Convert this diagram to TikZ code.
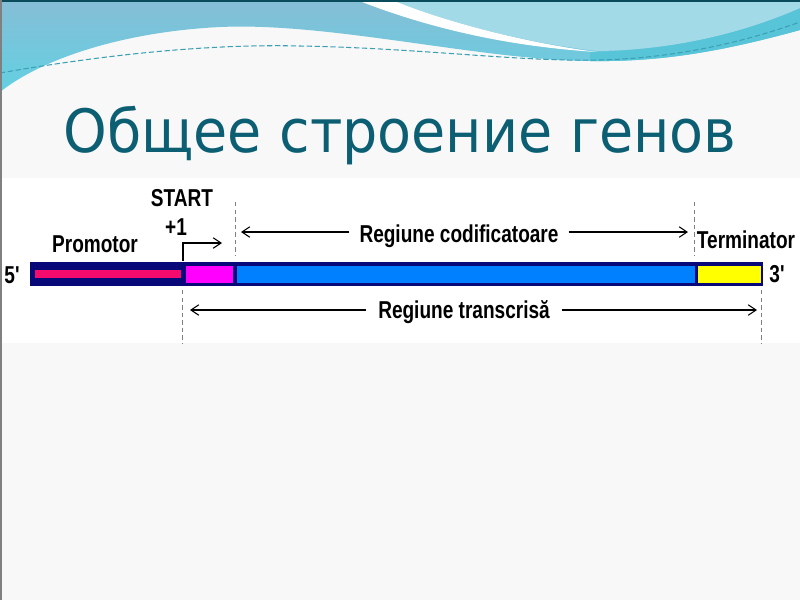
\documentclass[tikz,border=0pt]{standalone}
\usepackage{fontspec}
\usetikzlibrary{arrows.meta}
\newfontfamily\titlefont[FakeStretch=0.93]{DejaVu Sans}
\newfontfamily\labelfont[FakeStretch=0.78,Ligatures=TeXOff]{Liberation Sans}

\definecolor{slide}{RGB}{248,248,248}
\definecolor{titleteal}{RGB}{12,94,115}
\definecolor{wavetop}{RGB}{134,190,214}
\definecolor{wavebot}{RGB}{98,208,226}
\definecolor{wavelight}{RGB}{163,218,232}
\definecolor{waveband}{RGB}{88,196,216}
\definecolor{wavedash}{RGB}{60,160,180}
\definecolor{navy}{RGB}{8,8,120}
\definecolor{promo}{RGB}{245,10,110}
\definecolor{startpink}{RGB}{255,0,255}
\definecolor{codblue}{RGB}{0,128,255}
\definecolor{termyellow}{RGB}{255,255,0}

\tikzset{
	gene/.style={font=\labelfont\bfseries\fontsize{13.9}{16}\selectfont, inner sep=0pt, anchor=base},
	span/.style={-{Straight Barb[length=4.5pt,width=6pt]}, line width=0.6pt},
	guide/.style={gray, line width=0.4pt, dash pattern=on 2.5pt off 1.8pt},
}

\begin{document}
\begin{tikzpicture}[x=0.02cm,y=-0.02cm]
	\useasboundingbox (0,0) rectangle (800,600);
	% slide background and waves
	\fill[slide] (0,0) rectangle (800,600);
	\shade[top color=wavetop,bottom color=wavebot]
		(0,0) -- (800,0) -- (800,30)
		.. controls (720,52) and (660,62) .. (590,61)
		.. controls (480,60) and (330,22) .. (220,27)
		.. controls (120,32) and (40,60) .. (0,92) -- cycle;
	\fill[waveband] (590,52) .. controls (680,50) and (750,30) .. (800,8)
		-- (800,30) .. controls (720,52) and (660,62) .. (590,61) -- cycle;
	\fill[wavelight] (392,0) .. controls (440,20) and (520,42) .. (597,51)
		.. controls (680,50) and (750,30) .. (800,8) -- (800,0) -- cycle;
	\fill[white] (357,0) .. controls (420,25) and (500,46) .. (597,52)
		.. controls (520,42) and (440,20) .. (392,0) -- cycle;
	\draw[wavedash, line width=0.6pt, dash pattern=on 3pt off 1.5pt]
		(0,73) .. controls (120,52) and (220,44) .. (300,46)
		.. controls (420,48) and (520,62) .. (600,60)
		.. controls (680,58) and (750,40) .. (800,22);
	\fill[titleteal!80!black] (0,0) rectangle (800,2);
	\fill[gray] (0,0) rectangle (1.5,600);

	\node[anchor=base, text=titleteal, inner sep=0pt, font=\titlefont\fontsize{34}{40}\selectfont] (title) at (400,152) {Общее строение генов};

	% gene picture
	\fill[white] (1.5,178) rectangle (800,343);
	\fill[navy] (30,262) rectangle (763,286);
	\fill[promo] (35,270) rectangle (181,278);
	\fill[startpink] (186,266) rectangle (233,283);
	\fill[codblue] (237,266) rectangle (695,283);
	\fill[termyellow] (698,266) rectangle (761,283);

	\node[gene] (start) at (182,206) {START};
	\node[gene] (plus) at (176,235) {+1};
	\node[gene] (prom) at (95,252) {Promotor};
	\node[gene, inner xsep=5.5pt] (codreg) at (459,242) {Regiune codificatoare};
	\node[gene] (term) at (746,248) {Terminator};
	\node[gene] (five) at (12,283) {5'};
	\node[gene] (three) at (777,282) {3'};
	\node[gene, inner xsep=6.5pt] (trreg) at (464,318) {Regiune transcrisă};

	\coordinate (tss) at (183,261);
	\coordinate (tse) at (222,243);
	\coordinate (cdl) at (241,232);
	\coordinate (cdr) at (688,232);
	\coordinate (trl) at (190,310);
	\coordinate (trr) at (757,310);

	\draw[guide] (182,290) -- (182,343);
	\draw[guide] (235,202) -- (235,255);
	\draw[guide] (694,202) -- (694,255);
	\draw[guide] (761,290) -- (761,343);

	\draw[span] (tss) |- (tse);
	\draw[span] (codreg.west |- cdl) -- (cdl);
	\draw[span] (codreg.east |- cdr) -- (cdr);
	\draw[span] (trreg.west |- trl) -- (trl);
	\draw[span] (trreg.east |- trr) -- (trr);
\end{tikzpicture}
\end{document}
